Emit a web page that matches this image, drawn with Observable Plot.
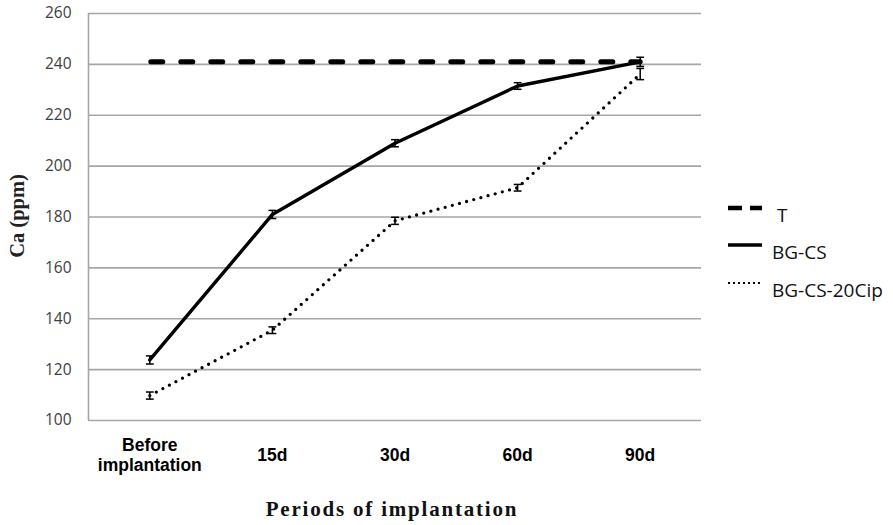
<!DOCTYPE html>
<html>
<head>
<meta charset="utf-8">
<script src="https://cdn.jsdelivr.net/npm/d3@7"></script>
<script src="https://cdn.jsdelivr.net/npm/@observablehq/plot@0.6"></script>
<style>
  html, body { margin: 0; padding: 0; background: #fff; }
  #wrap { position: relative; width: 893px; height: 525px; }
  #legend { position: absolute; left: 0; top: 0; }
</style>
</head>
<body>
<div id="wrap"></div>
<script>
const categories = ["Before\nimplantation", "15d", "30d", "60d", "90d"];
const seriesT = [241, 241, 241, 241, 241];
const seriesBGCS = [123.8, 181, 209, 231.5, 241];
const errBGCS = [1.6, 1.6, 1.4, 1.3, 1.8];
const seriesCip = [109.8, 135.5, 178.5, 191.5, 236.2];
const errCip = [1.4, 1.3, 1.4, 1.3, 2.2];
const yTicks = [100, 120, 140, 160, 180, 200, 220, 240, 260];
const legendItems = [
  {name: "T", style: "dash"},
  {name: "BG-CS", style: "solid"},
  {name: "BG-CS-20Cip", style: "dot"}
];

const rows = (vals, errs, name) => vals.map((v, i) => ({i, v, e: errs ? errs[i] : 0, name}));
const dT = rows(seriesT, null, "T");
const dB = rows(seriesBGCS, errBGCS, "BG-CS");
const dC = rows(seriesCip, errCip, "BG-CS-20Cip");
const errs = dB.concat(dC);
const capHalf = 0.032;

const chart = Plot.plot({
  width: 893,
  height: 525,
  marginLeft: 88,
  marginRight: 192,
  marginTop: 13,
  marginBottom: 105,
  style: {background: "#fff", overflow: "visible"},
  x: {domain: [-0.5, categories.length - 0.5]},
  y: {domain: [100, 260]},
  marks: [
    Plot.ruleY(yTicks, {stroke: "#a6a6a6", strokeWidth: 1.6}),
    Plot.ruleX([-0.5], {y1: 100, y2: 260, stroke: "#a6a6a6", strokeWidth: 1.6}),
    Plot.axisY({ticks: yTicks, tickSize: 0, tickPadding: 17, label: null,
      fontSize: 15.5, fontFamily: "Open Sans", fill: "#404040"}),
    Plot.axisX({ticks: d3.range(categories.length), tickFormat: i => categories[i],
      tickSize: 0, tickPadding: 34, label: null, lineAnchor: "middle", lineHeight: 1.15,
      fontSize: 17.5, fontWeight: "bold", fontFamily: "Liberation Sans", fill: "#000"}),
    Plot.line(dT, {x: "i", y: "v", stroke: "#000", strokeWidth: 5,
      strokeDasharray: "12 18", strokeLinecap: "round", strokeDashoffset: -1}),
    Plot.line(dB, {x: "i", y: "v", stroke: "#000", strokeWidth: 3.4, strokeLinejoin: "round"}),
    Plot.line(dC, {x: "i", y: "v", stroke: "#000", strokeWidth: 3.3,
      strokeDasharray: "0 7.4", strokeLinecap: "round"}),
    Plot.link(errs, {x1: "i", x2: "i", y1: d => d.v - d.e, y2: d => d.v + d.e, stroke: "#000", strokeWidth: 1.5}),
    Plot.link(errs, {x1: d => d.i - capHalf, x2: d => d.i + capHalf, y1: d => d.v - d.e, y2: d => d.v - d.e, stroke: "#000", strokeWidth: 1.5}),
    Plot.link(errs, {x1: d => d.i - capHalf, x2: d => d.i + capHalf, y1: d => d.v + d.e, y2: d => d.v + d.e, stroke: "#000", strokeWidth: 1.5}),
    Plot.text(["Ca (ppm)"], {frameAnchor: "left", textAnchor: "middle", dx: -71, dy: -1, rotate: -90,
      fontFamily: "Liberation Serif", fontWeight: "bold", fontSize: 20.5, fill: "#222"}),
    Plot.text(["Periods of implantation"], {frameAnchor: "bottom", dy: 95, dx: -3,
      fontFamily: "Liberation Serif", fontWeight: "bold", fontSize: 21, fill: "#111"})
  ]
});
document.getElementById("wrap").appendChild(chart);
d3.select(chart).selectAll("text").filter(function() { return this.textContent === "Periods of implantation"; })
  .style("letter-spacing", "1.8px");

// legend
const lg = d3.select("#wrap").append("svg").attr("id", "legend")
  .attr("width", 893).attr("height", 525);
const ly = [208, 245, 283];
legendItems.forEach((it, k) => {
  const g = lg.append("g");
  const line = g.append("line").attr("x1", 728).attr("x2", 762)
    .attr("y1", ly[k]).attr("y2", ly[k]).attr("stroke", "#000");
  if (it.style === "dash") line.attr("stroke-width", 4.5).attr("stroke-dasharray", "14 8");
  else if (it.style === "solid") line.attr("stroke-width", 3.4);
  else line.attr("stroke-width", 2.2).attr("stroke-dasharray", "2 3");
  g.append("text").attr("x", it.style === "dash" ? 777 : 772).attr("y", ly[k] + 14)
    .attr("font-family", "Open Sans").attr("font-size", 19).attr("fill", "#111")
    .text(it.name);
});
</script>
</body>
</html>
